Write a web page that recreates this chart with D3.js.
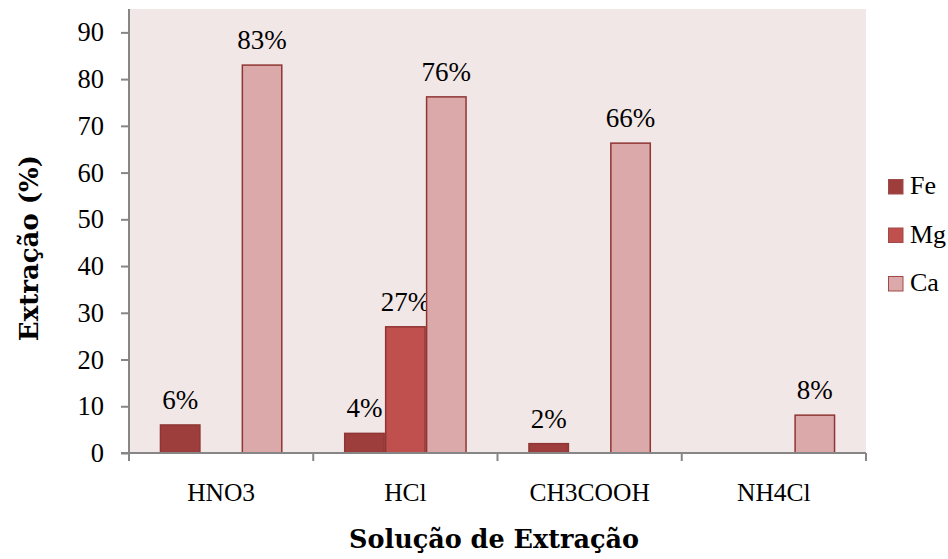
<!DOCTYPE html>
<html><head><meta charset="utf-8">
<script src="https://cdn.jsdelivr.net/npm/d3@7"></script>
<style>body{margin:0;background:#fff}svg{display:block}</style>
</head><body>
<script>
const categories = ["HNO3", "HCl", "CH3COOH", "NH4Cl"];
const seriesNames = ["Fe", "Mg", "Ca"];
const feValues = [6.0, 4.2, 2.0, null];
const mgValues = [null, 27.0, null, null];
const caValues = [83.0, 76.2, 66.3, 8.1];
const feLabels = ["6%", "4%", "2%", null];
const mgLabels = [null, "27%", null, null];
const caLabels = ["83%", "76%", "66%", "8%"];
const yTicks = [0, 10, 20, 30, 40, 50, 60, 70, 80, 90];
const colors = ["#9d3e3c", "#c0504d", "#dba9aa"];

const W = 948, H = 559;
const m = {left: 129, top: 9, right: 866, bottom: 453};
const font = "'Liberation Serif', 'DejaVu Serif', serif";
const boldFont = "'DejaVu Serif', 'Liberation Serif', serif";

const svg = d3.select("body").append("svg").attr("width", W).attr("height", H);
svg.append("rect").attr("x", m.left).attr("y", m.top).attr("width", m.right - m.left).attr("height", m.bottom - m.top).attr("fill", "#f2e7e7");

const x = d3.scaleBand().domain(categories).range([m.left, m.right]).paddingInner(0).paddingOuter(0);
const bw = x.bandwidth();
const barW = bw / (3 + 1.5);
const xs = d3.scaleBand().domain(seriesNames).range([barW * 0.75, bw - barW * 0.75]).padding(0);
const y = d3.scaleLinear().domain([0, 95]).range([m.bottom, m.top]);

const series = [feValues, mgValues, caValues];
const labels = [feLabels, mgLabels, caLabels];

series.forEach((vals, si) => {
  const data = categories.map((c, i) => ({c, v: vals[i], l: labels[si][i]})).filter(d => d.v != null);
  svg.append("g").selectAll("rect").data(data).join("rect")
    .attr("x", d => x(d.c) + xs(seriesNames[si]) + 0.75)
    .attr("y", d => y(d.v))
    .attr("width", xs.bandwidth() - 1.5)
    .attr("height", d => y(0) - y(d.v))
    .attr("fill", colors[si])
    .attr("stroke", "#8f3634").attr("stroke-width", 1.5);
  svg.append("g").selectAll("text").data(data).join("text")
    .attr("x", d => x(d.c) + xs(seriesNames[si]) + xs.bandwidth() / 2)
    .attr("y", d => y(d.v) - 16)
    .attr("text-anchor", "middle")
    .attr("font-family", font).attr("font-size", 27).attr("fill", "#000")
    .text(d => d.l);
});

// Y axis
const yAxis = svg.append("g").attr("transform", `translate(${m.left},0)`)
  .call(d3.axisLeft(y).tickValues(yTicks).tickSize(8).tickPadding(17));
yAxis.select(".domain").attr("stroke", "#868686").attr("stroke-width", 2).attr("d", `M0,${m.top}V${m.bottom}`);
yAxis.selectAll(".tick line").attr("stroke", "#868686").attr("stroke-width", 2);
yAxis.selectAll(".tick text").attr("font-family", font).attr("font-size", 26.5).attr("fill", "#000");

// X axis
const xAxis = svg.append("g").attr("transform", `translate(0,${m.bottom})`)
  .call(d3.axisBottom(x).tickSize(0).tickPadding(30));
xAxis.select(".domain").attr("stroke", "#868686").attr("stroke-width", 2).attr("d", `M${m.left - 8},0H${m.right}`);
xAxis.selectAll(".tick text").attr("font-family", font).attr("font-size", 25.5).attr("fill", "#000");
const bounds = categories.map(c => x(c)).concat([x(categories[categories.length - 1]) + bw]);
svg.append("g").selectAll("line").data(bounds).join("line")
  .attr("x1", d => d).attr("x2", d => d).attr("y1", m.bottom).attr("y2", m.bottom + 8)
  .attr("stroke", "#868686").attr("stroke-width", 2);

// Titles
svg.append("text").attr("x", 494).attr("y", 548).attr("text-anchor", "middle")
  .attr("font-family", boldFont).attr("font-weight", "bold").attr("font-size", 25.5).text("Solução de Extração");
svg.append("text").attr("transform", "translate(38,248) rotate(-90)").attr("text-anchor", "middle")
  .attr("font-family", boldFont).attr("font-weight", "bold").attr("font-size", 26).text("Extração (%)");

// Legend
const leg = svg.append("g");
seriesNames.forEach((s, i) => {
  const ly = 179 + i * 48.5;
  leg.append("rect").attr("x", 888.5).attr("y", ly + 0.5).attr("width", 14.5).attr("height", 14.5)
    .attr("fill", colors[i]).attr("stroke", "#a04a48").attr("stroke-width", 1);
  leg.append("text").attr("x", 910).attr("y", ly + 15).attr("font-family", font).attr("font-size", 26).text(s);
});
</script>
</body></html>
